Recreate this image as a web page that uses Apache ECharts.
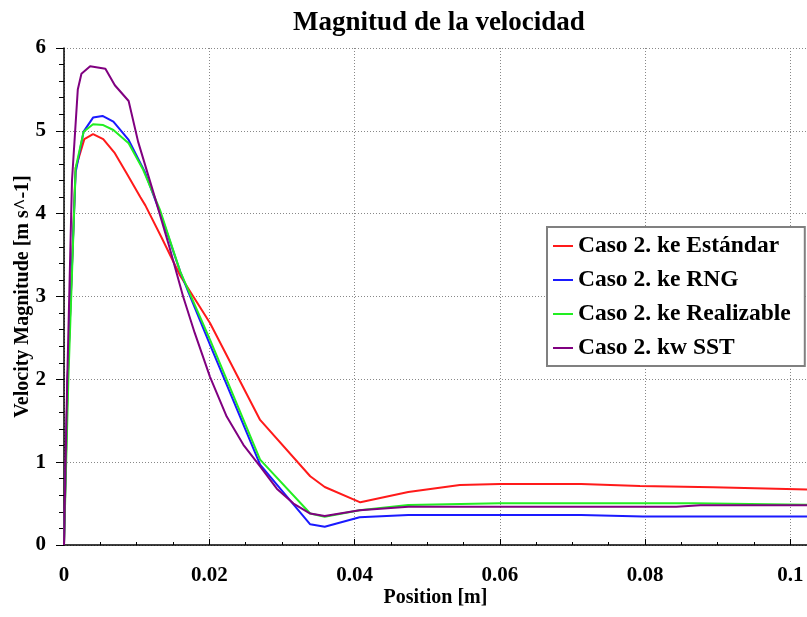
<!DOCTYPE html>
<html>
<head>
<meta charset="utf-8">
<script src="https://cdn.jsdelivr.net/npm/echarts@6/dist/echarts.min.js"></script>
<style>html,body{margin:0;padding:0;background:#fff}#c{width:807px;height:617px}</style>
</head>
<body>
<div id="c"></div>
<script>
const seriesNames = ['Caso 2. ke Estándar', 'Caso 2. ke RNG', 'Caso 2. ke Realizable', 'Caso 2. kw SST'];
const keEstandar = [[0,0],[0.0005,2.0],[0.0016,4.55],[0.0028,4.9],[0.004,4.96],[0.0054,4.9],[0.007,4.73],[0.0086,4.49],[0.0105,4.2],[0.0112,4.1],[0.0135,3.7],[0.016,3.25],[0.0201,2.68],[0.027,1.51],[0.0339,0.83],[0.0359,0.70],[0.0408,0.515],[0.0474,0.64],[0.0545,0.725],[0.060,0.737],[0.0712,0.737],[0.0793,0.713],[0.0894,0.697],[0.1023,0.67]];
const keRNG = [[0,0],[0.0005,2.0],[0.0016,4.5],[0.0027,4.99],[0.004,5.16],[0.0053,5.18],[0.0068,5.11],[0.0089,4.89],[0.0111,4.51],[0.0134,3.97],[0.016,3.3],[0.0171,3.06],[0.0201,2.42],[0.027,0.97],[0.0339,0.25],[0.0359,0.22],[0.0407,0.335],[0.0474,0.362],[0.0712,0.362],[0.0797,0.345],[0.1023,0.345]];
const keRealizable = [[0,0],[0.0006,2.0],[0.0016,4.55],[0.0027,4.99],[0.004,5.08],[0.0054,5.07],[0.0068,5.01],[0.0089,4.85],[0.0109,4.53],[0.0132,4.05],[0.016,3.3],[0.0201,2.48],[0.027,1.03],[0.0339,0.38],[0.0359,0.34],[0.0407,0.42],[0.0474,0.483],[0.060,0.503],[0.0866,0.503],[0.1023,0.485]];
const kwSST = [[0,0],[0.00045,2.0],[0.0011,4.4],[0.0019,5.5],[0.0024,5.69],[0.0036,5.78],[0.0057,5.75],[0.007,5.55],[0.0089,5.36],[0.0102,4.87],[0.0125,4.2],[0.0145,3.6],[0.0164,3.0],[0.018,2.56],[0.0201,2.03],[0.0224,1.55],[0.0247,1.21],[0.027,0.95],[0.0293,0.68],[0.0316,0.5],[0.0339,0.38],[0.0359,0.35],[0.0407,0.42],[0.0474,0.463],[0.0843,0.463],[0.0876,0.48],[0.1023,0.48]];
const colors = ['#ff1a1a', '#1a1aff', '#22ee22', '#800080'];
const seriesData = [keEstandar, keRNG, keRealizable, kwSST];

const font = 'Liberation Serif';
const chart = echarts.init(document.getElementById('c'));
chart.setOption({
  animation: false,
  backgroundColor: '#fff',
  title: {
    text: 'Magnitud de la velocidad', left: 434, top: 5, textAlign: 'center',
    textStyle: {fontFamily: font, fontWeight: 'bold', fontSize: 27, color: '#000'}
  },
  grid: {left: 64, right: 0, top: 48, bottom: 72, containLabel: false, outerBoundsMode: 'none'},
  legend: {
    orient: 'vertical', left: 547, top: 227,
    padding: [7, 14, 6, 6], itemGap: 10,
    backgroundColor: '#fff', borderColor: '#808080', borderWidth: 2,
    itemWidth: 20, itemHeight: 2, icon: 'rect',
    textStyle: {fontFamily: font, fontWeight: 'bold', fontSize: 23.5, color: '#000', lineHeight: 23},
    data: seriesNames
  },
  xAxis: {
    type: 'value', min: 0, max: 0.1023, interval: 0.02, offset: 8,
    name: 'Position [m]', nameLocation: 'middle', nameGap: 35, nameMoveOverlap: false,
    nameTextStyle: {fontFamily: font, fontWeight: 'bold', fontSize: 20, color: '#000'},
    axisLine: {show: true, lineStyle: {color: '#000', width: 1.5}},
    axisTick: {show: true, inside: true, length: 6, lineStyle: {color: '#000'}},
    minorTick: {show: true, splitNumber: 4, length: 3, lineStyle: {color: '#000'}},
    axisLabel: {fontFamily: font, fontWeight: 'bold', fontSize: 21, color: '#000', margin: 12, showMaxLabel: false,
      formatter: v => String(+v.toFixed(4))},
    splitLine: {show: true, lineStyle: {color: '#888', type: [1, 2], width: 1}}
  },
  yAxis: {
    type: 'value', min: 0, max: 6, interval: 1, offset: 7,
    name: 'Velocity Magnitude [m s^-1]', nameLocation: 'middle', nameGap: 24, nameMoveOverlap: false,
    nameTextStyle: {fontFamily: font, fontWeight: 'bold', fontSize: 20, color: '#000'},
    axisLine: {show: true, lineStyle: {color: '#000', width: 1.5}},
    axisTick: {show: true, inside: false, length: 8, lineStyle: {color: '#000'}},
    minorTick: {show: true, splitNumber: 5, length: 5, lineStyle: {color: '#000'}},
    axisLabel: {fontFamily: font, fontWeight: 'bold', fontSize: 21, color: '#000', margin: 11},
    splitLine: {show: true, lineStyle: {color: '#888', type: [1, 2], width: 1}}
  },
  series: seriesNames.map((n, i) => ({
    name: n, type: 'line', data: seriesData[i], showSymbol: false, symbol: 'none',
    lineStyle: {color: colors[i], width: 2}, itemStyle: {color: colors[i]}
  }))
});
</script>
</body>
</html>
